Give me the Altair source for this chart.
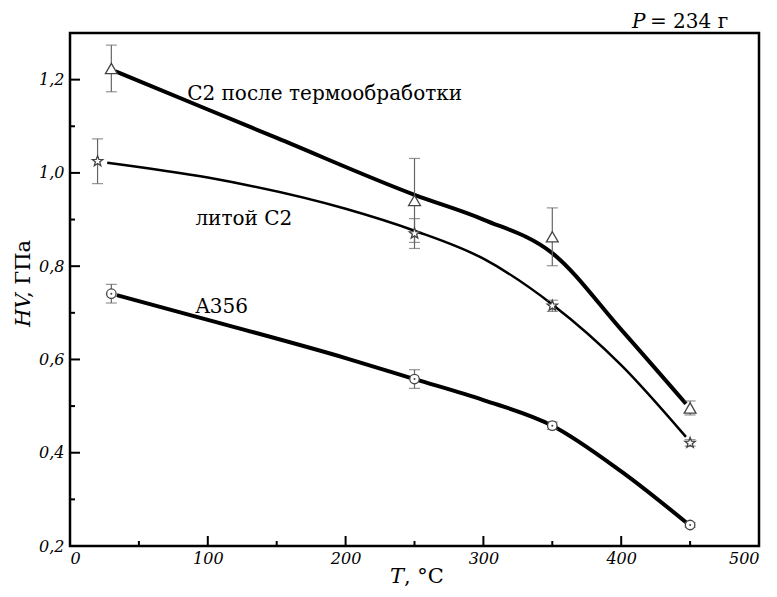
import altair as alt
import pandas as pd

# ---- data ----
T_tri = [30, 250, 350, 450]
HV_tri = [1.224, 0.941, 0.863, 0.496]
ERR_tri = [0.05, 0.09, 0.062, 0.015]

T_star = [20, 250, 350, 450]
HV_star = [1.025, 0.870, 0.715, 0.421]
ERR_star = [0.048, 0.032, 0.012, 0.007]

T_circ = [30, 250, 350, 450]
HV_circ = [0.741, 0.558, 0.458, 0.245]
ERR_circ = [0.02, 0.02, 0.008, 0.005]

# fitted curves
CT_tri = [33, 100, 150, 250, 300, 350, 400, 447]
CV_tri = [1.218, 1.136, 1.075, 0.953, 0.900, 0.828, 0.664, 0.505]
CT_star = [27, 100, 200, 250, 300, 350, 400, 447]
CV_star = [1.022, 0.99, 0.923, 0.876, 0.816, 0.718, 0.588, 0.434]
CT_circ = [34, 100, 200, 250, 300, 350, 400, 447]
CV_circ = [0.738, 0.685, 0.603, 0.558, 0.513, 0.458, 0.36, 0.251]

X_LABELS = [0, 100, 200, 300, 400, 500]
Y_LABELS = [0.2, 0.4, 0.6, 0.8, 1.0, 1.2]
X_MAJOR = [100, 200, 300, 400]
X_MINOR = [50, 150, 250, 350, 450]
Y_MAJOR = [0.4, 0.6, 0.8, 1.0, 1.2]
Y_MINOR = [0.3, 0.5, 0.7, 0.9, 1.1]

LBL_TEXT = ["C2 после термообработки", "литой C2", "A356"]
LBL_T = [85, 91, 91]
LBL_V = [1.157, 0.889, 0.70]

W, H = 689, 513
SERIF = "DejaVu Serif, Liberation Serif, serif"

xs = alt.Scale(domain=[0, 500], nice=False, zero=False)
ys = alt.Scale(domain=[0.2, 1.3], nice=False, zero=False)

STAR = ("M0,-1 L0.247,-0.34 L0.951,-0.309 L0.399,0.13 L0.588,0.809 L0,0.42 "
        "L-0.588,0.809 L-0.399,0.13 L-0.951,-0.309 L-0.247,-0.34 Z")


def pts(T, V, E):
    return pd.DataFrame({"T": T, "V": V, "lo": [v - e for v, e in zip(V, E)],
                         "hi": [v + e for v, e in zip(V, E)]})


d_tri = pts(T_tri, HV_tri, ERR_tri)
d_star = pts(T_star, HV_star, ERR_star)
d_circ = pts(T_circ, HV_circ, ERR_circ)

axis_df = pd.DataFrame({"T": [0, 500], "V": [0.2, 1.3]})
base = alt.Chart(axis_df).mark_point(opacity=0).encode(
    x=alt.X("T:Q", scale=xs, axis=alt.Axis(
        values=X_LABELS, title=None, grid=False, ticks=False, domain=False,
        labelFont=SERIF, labelFontStyle="italic", labelFontSize=16,
        labelColor="black", labelPadding=4, labelExpr="format(datum.value, 'd')")),
    y=alt.Y("V:Q", scale=ys, axis=alt.Axis(
        values=Y_LABELS, title=None, grid=False, ticks=False, domain=False,
        labelFont=SERIF, labelFontStyle="italic", labelFontSize=16,
        labelColor="black", labelPadding=6,
        labelExpr="replace(format(datum.value, '.1f'), '.', ',')")),
)


def curve(T, V, width):
    df = pd.DataFrame({"T": T, "V": V})
    return alt.Chart(df).mark_line(color="black", strokeWidth=width,
                                   interpolate="monotone").encode(
        x=alt.X("T:Q", scale=xs), y=alt.Y("V:Q", scale=ys))


def errbars(df):
    r = alt.Chart(df).mark_rule(color="#666", strokeWidth=1.2).encode(
        x=alt.X("T:Q", scale=xs), y=alt.Y("lo:Q", scale=ys), y2="hi:Q")
    c1 = alt.Chart(df).mark_tick(color="#666", thickness=1.2, size=11,
                                 orient="horizontal").encode(
        x=alt.X("T:Q", scale=xs), y=alt.Y("lo:Q", scale=ys))
    c2 = alt.Chart(df).mark_tick(color="#666", thickness=1.2, size=11,
                                 orient="horizontal").encode(
        x=alt.X("T:Q", scale=xs), y=alt.Y("hi:Q", scale=ys))
    return r + c1 + c2


def markers(df, shape, size):
    return alt.Chart(df).mark_point(shape=shape, size=size, filled=True,
                                    fill="white", stroke="#444",
                                    strokeWidth=1.3, opacity=1).encode(
        x=alt.X("T:Q", scale=xs), y=alt.Y("V:Q", scale=ys))


dots = alt.Chart(d_circ).mark_point(shape="circle", size=4, filled=True,
                                    color="#444", opacity=1).encode(
    x=alt.X("T:Q", scale=xs), y=alt.Y("V:Q", scale=ys))

xmaj = alt.Chart(pd.DataFrame({"T": X_MAJOR})).mark_rule(
    color="black", strokeWidth=2).encode(
    x=alt.X("T:Q", scale=xs), y=alt.value(H), y2=alt.value(H - 10))
xmin = alt.Chart(pd.DataFrame({"T": X_MINOR})).mark_rule(
    color="black", strokeWidth=2).encode(
    x=alt.X("T:Q", scale=xs), y=alt.value(H), y2=alt.value(H - 5))
ymaj = alt.Chart(pd.DataFrame({"V": Y_MAJOR})).mark_rule(
    color="black", strokeWidth=2).encode(
    y=alt.Y("V:Q", scale=ys), x=alt.value(0), x2=alt.value(10))
ymin = alt.Chart(pd.DataFrame({"V": Y_MINOR})).mark_rule(
    color="black", strokeWidth=2).encode(
    y=alt.Y("V:Q", scale=ys), x=alt.value(0), x2=alt.value(5))

labels = alt.Chart(pd.DataFrame({"t": LBL_TEXT, "T": LBL_T, "V": LBL_V})).mark_text(
    font=SERIF, fontSize=20, align="left", baseline="alphabetic", color="black").encode(
    x=alt.X("T:Q", scale=xs), y=alt.Y("V:Q", scale=ys), text="t:N")


def txt(s, x, y, italic=False, size=21, angle=0, align="left"):
    kw = dict(font=SERIF, fontSize=size, align=align, baseline="middle",
              color="black", text=s)
    if italic:
        kw["fontStyle"] = "italic"
    if angle:
        kw["angle"] = angle
    return alt.Chart(pd.DataFrame({"a": [0]})).mark_text(**kw).encode(
        x=alt.value(x), y=alt.value(y))


titles = (
    txt("T", 320, 544, italic=True)
    + txt(", °C", 334, 544)
    + txt("HV", -46, 294, italic=True, angle=270)
    + txt(", ГПа", -46, 265, angle=270)
    + txt("P", 562, -11, italic=True, size=20)
    + txt("= 234 г", 580, -11, size=20)
)

chart = alt.layer(
    base,
    curve(CT_tri, CV_tri, 4), curve(CT_star, CV_star, 2.5), curve(CT_circ, CV_circ, 4),
    errbars(d_tri), errbars(d_star), errbars(d_circ),
    markers(d_tri, "triangle-up", 140), markers(d_star, STAR, 120),
    markers(d_circ, "circle", 90), dots,
    xmaj, xmin, ymaj, ymin, labels, titles,
).properties(
    width=W, height=H,
    padding={"left": 62, "top": 25, "right": 10, "bottom": 43},
    autosize=alt.AutoSizeParams(type="none"),
).configure_view(stroke="black", strokeWidth=2.5)

chart.save("out.html", embed_options={"renderer": "svg", "actions": False})
